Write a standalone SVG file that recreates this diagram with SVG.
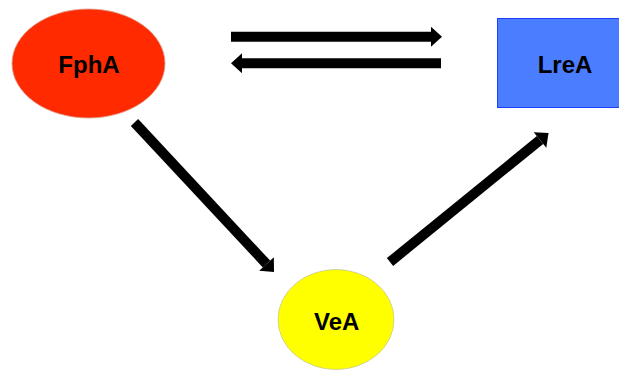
<svg xmlns="http://www.w3.org/2000/svg" width="619" height="370" viewBox="0 0 619 370">
<defs>
<style>
.lbl{font-family:"Liberation Sans",Arial,sans-serif;font-weight:bold;font-size:24px;fill:#000;text-anchor:middle}
.arr{stroke:#000;stroke-width:10;fill:none;marker-end:url(#head)}
</style>
<marker id="head" markerUnits="userSpaceOnUse" viewBox="0 -10 11 20" refX="0" refY="0" markerWidth="11" markerHeight="20" orient="auto" overflow="visible">
<path d="M0,-10 L11,0 L0,10 z" fill="#000"/>
</marker>
</defs>
<rect width="619" height="370" fill="#fff"/>
<g id="connectors">
<line class="arr" x1="231" y1="36.7" x2="431" y2="36.7"/>
<line class="arr" x1="441" y1="63.3" x2="242" y2="63.3"/>
<line class="arr" x1="134.5" y1="122.5" x2="266.5" y2="264"/>
<line class="arr" x1="390" y1="262" x2="540" y2="140"/>
</g>
<g id="FphA">
<ellipse cx="88.5" cy="63.5" rx="76.5" ry="54.5" fill="#ff2a00" stroke="#d9a090" stroke-width="0.8"/>
<text class="lbl" x="89" y="72.7">FphA</text>
</g>
<g id="LreA">
<rect x="497.5" y="18.5" width="125" height="89" fill="#4a7dff" stroke="#1f3fff" stroke-width="1"/>
<text class="lbl" x="565" y="73.3">LreA</text>
</g>
<g id="VeA">
<ellipse cx="336" cy="319.5" rx="58" ry="50" fill="#ffff00" stroke="#c8c8a0" stroke-width="0.8"/>
<text class="lbl" x="336.7" y="330">VeA</text>
</g>
</svg>
